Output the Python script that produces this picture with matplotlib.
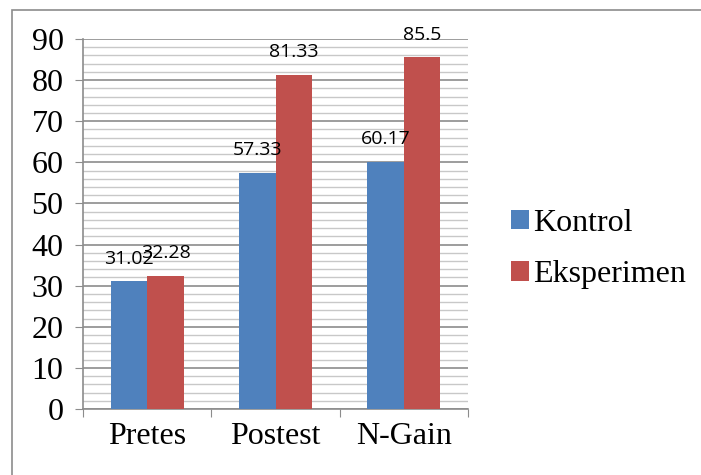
import matplotlib.pyplot as plt
import numpy as np
from matplotlib.patches import Rectangle

# data
categories = ['Pretes', 'Postest', 'N-Gain']
kontrol = [31.02, 57.33, 60.17]
eksperimen = [32.28, 81.33, 85.5]
kontrol_labels = ['31.02', '57.33', '60.17']
eksperimen_labels = ['32.28', '81.33', '85.5']

serif = 'Liberation Serif'
sans = 'Open Sans'

fig = plt.figure(figsize=(7.01, 4.75), dpi=100)
ax = fig.add_axes([83 / 701, 66 / 475, 385 / 701, 370 / 475])

x = np.arange(len(categories))
w = 0.285
b1 = ax.bar(x - w / 2, kontrol, w, color='#4F81BD', label='Kontrol', zorder=3)
b2 = ax.bar(x + w / 2, eksperimen, w, color='#C0504D', label='Eksperimen', zorder=3)

for bars, labels in [(b1, kontrol_labels), (b2, eksperimen_labels)]:
    for bar, lab in zip(bars, labels):
        ax.annotate(lab, (bar.get_x() + bar.get_width() / 2, bar.get_height()),
                    xytext=(0, 10), textcoords='offset points',
                    ha='center', va='bottom', fontsize=14, family=sans)

ax.set_xlim(-0.5, 2.5)
ax.set_ylim(0, 90)
ax.set_yticks(np.arange(0, 91, 10))
ax.set_yticks(np.arange(0, 91, 2), minor=True)
ax.yaxis.grid(True, which='major', color='#8c8c8c', linewidth=1.2, zorder=0)
ax.yaxis.grid(True, which='minor', color='#c8c8c8', linewidth=1.0, zorder=0)
ax.set_axisbelow(True)

# category labels between boundary ticks
ax.set_xticks([-0.5, 0.5, 1.5, 2.5])
ax.set_xticklabels([])
ax.set_xticks(x, minor=True)
ax.set_xticklabels(categories, minor=True, family=serif, fontsize=23)
ax.tick_params(axis='x', which='minor', length=0, pad=9)
ax.tick_params(axis='x', which='major', length=6, color='#8c8c8c')
ax.tick_params(axis='y', which='major', length=6, color='#8c8c8c', pad=8)
ax.tick_params(axis='y', which='minor', length=0)
for t in ax.get_yticklabels():
    t.set_family(serif)
    t.set_fontsize(23)

for s in ['top', 'right']:
    ax.spines[s].set_visible(False)
for s in ['left', 'bottom']:
    ax.spines[s].set_color('#8c8c8c')
    ax.spines[s].set_linewidth(1.2)

leg = ax.legend(loc='center left', bbox_to_anchor=(1.079, 0.432), frameon=False,
                prop={'family': serif, 'size': 23}, handlelength=0.55, handleheight=0.55,
                handletextpad=0.15, labelspacing=0.7, borderaxespad=0)

# outer chart border
fig.patches.append(Rectangle((12 / 701, -0.1), 1.2, 1 - 10 / 475 + 0.1,
                             transform=fig.transFigure, fill=False,
                             edgecolor='#8c8c8c', linewidth=1.2))

fig.savefig('out.png', dpi=100)
